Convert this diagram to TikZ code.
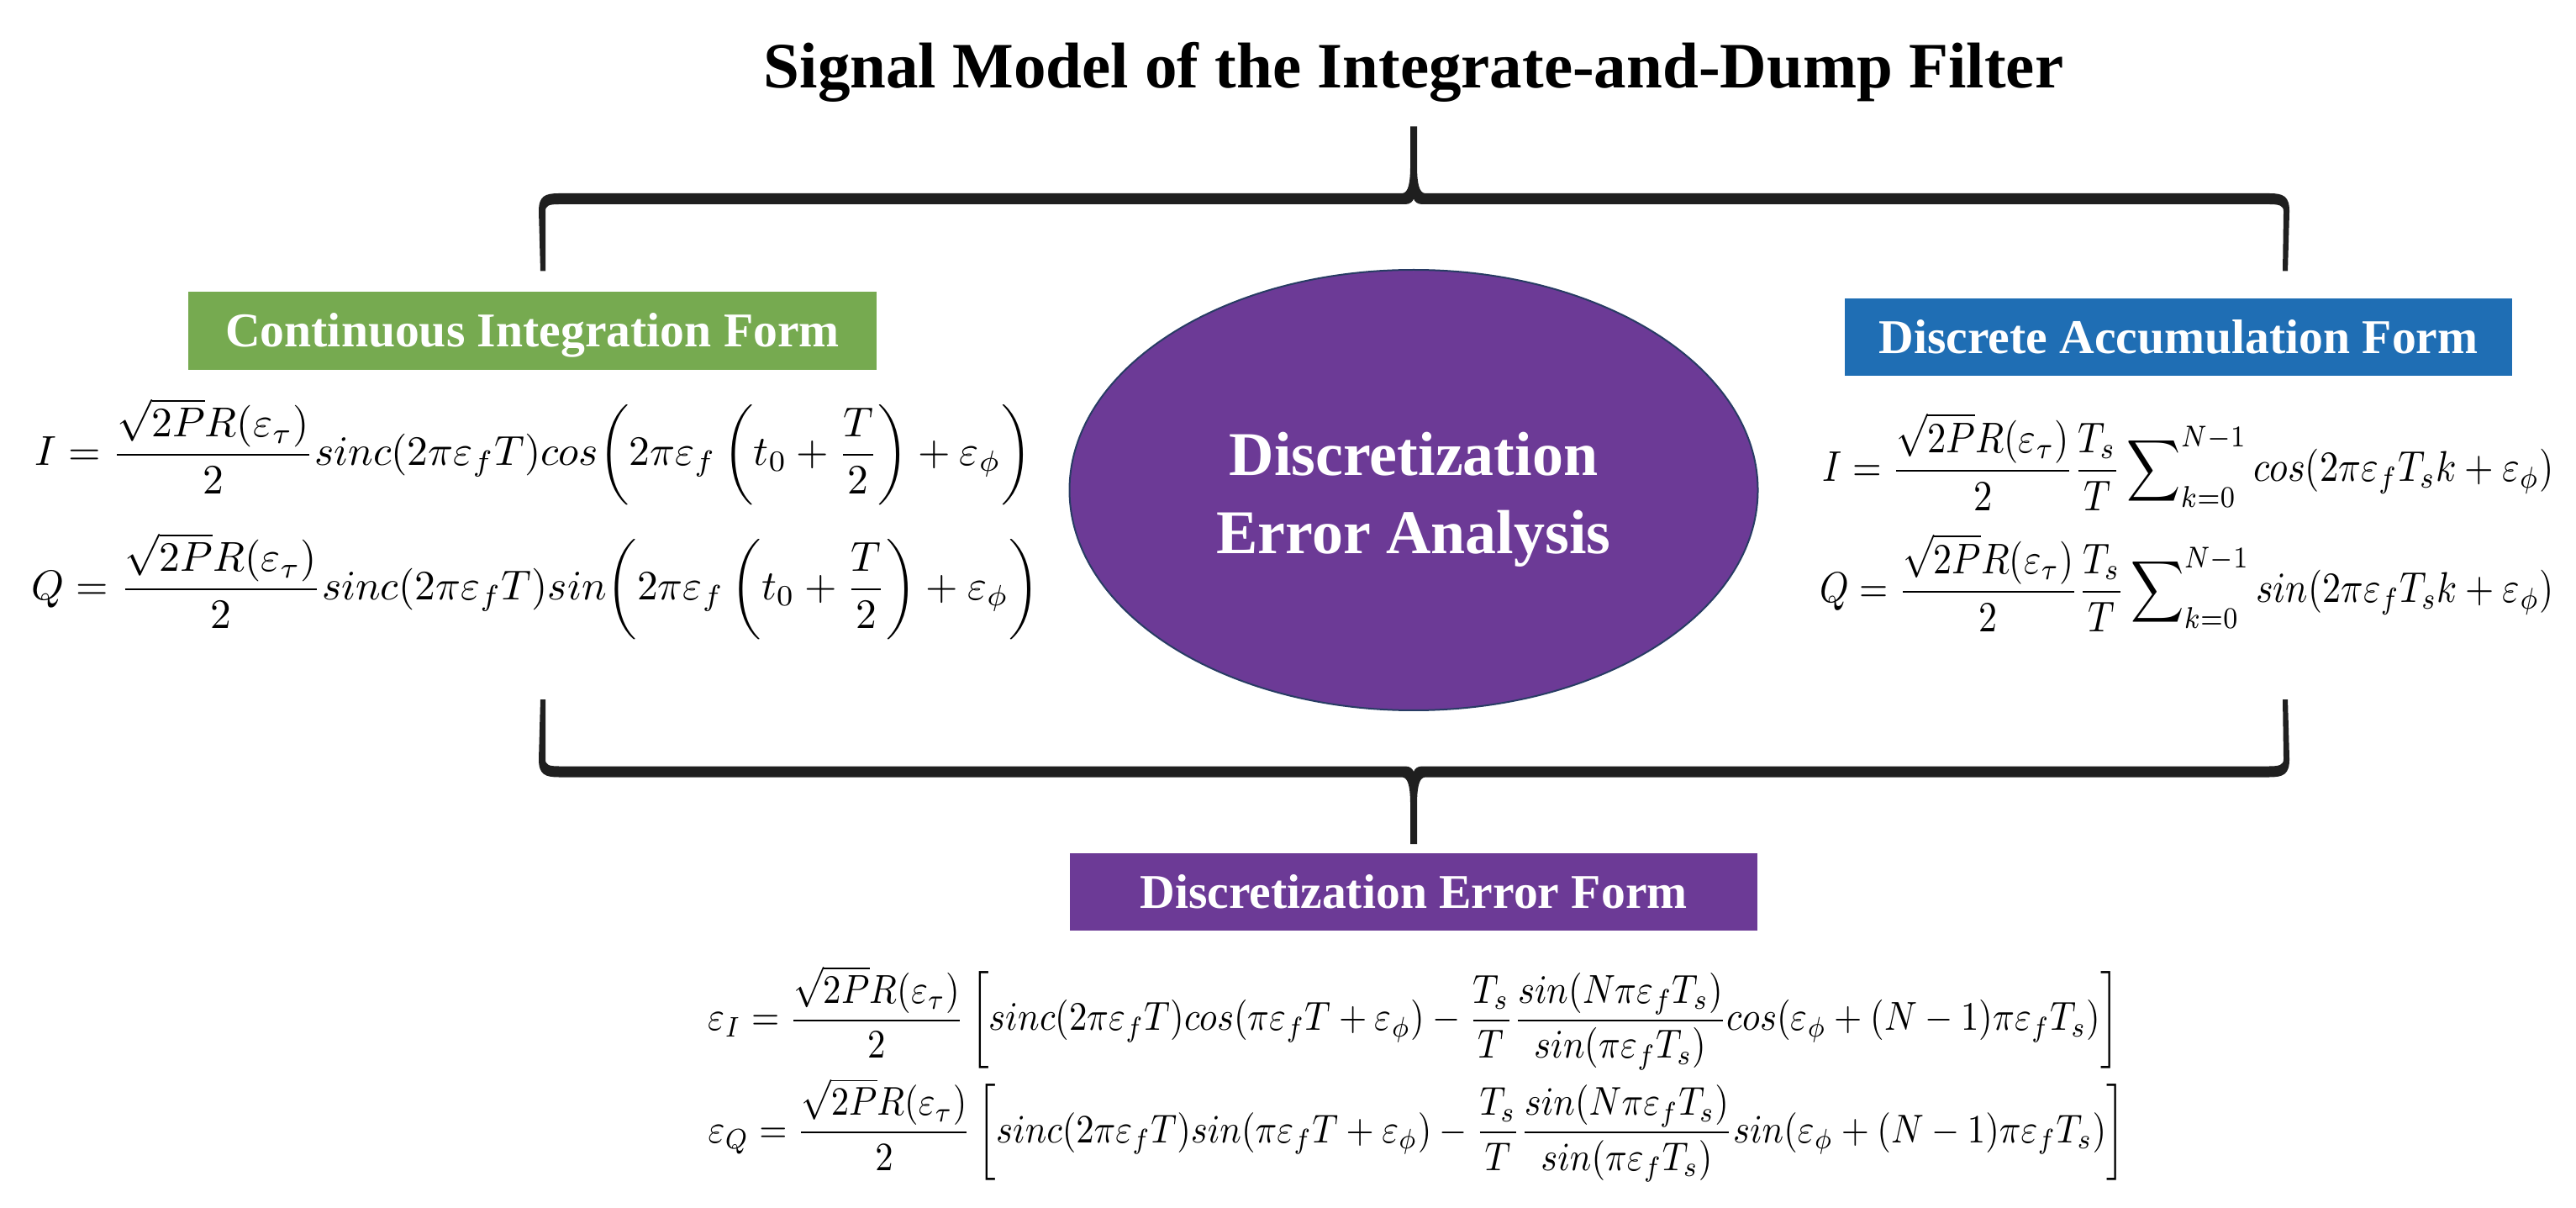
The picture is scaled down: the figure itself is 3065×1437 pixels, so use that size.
\documentclass[tikz,border=0pt]{standalone}
\usepackage{fontspec}
\setmainfont{Liberation Serif}
\usepackage{amsmath}
\usepackage{graphicx}
\usetikzlibrary{shapes.geometric}
\definecolor{cgreen}{RGB}{118,170,80}
\definecolor{cblue}{RGB}{31,110,180}
\definecolor{cpurple}{RGB}{108,58,150}
\definecolor{cnavy}{RGB}{40,60,100}
\newcommand\pa[1]{{\left(#1\right)}}
\tikzset{
  hdrbox/.style={rectangle, fill=#1, text=white, inner sep=0pt,
    font=\bfseries\fontsize{17.3}{20}\selectfont, text height=11.7pt, text depth=0pt},
  eqn/.style={anchor=north west, inner sep=0pt},
  elltext/.style={anchor=base, text=white, inner sep=0pt, font=\bfseries\fontsize{22.2}{26}\selectfont},
  pics/bigbrace/.style={code={
    \fill[black!88] (-1039,86) -- (-1041,15) .. controls (-1041,-3) and (-1034,-6.5) .. (-1017,-6.5)
      -- (-14,-6.5) .. controls (-6,-6.5) and (-4,-20) .. (-4,-40) -- (-4,-86) -- (4,-86) -- (4,-40)
      .. controls (4,-20) and (6,-6.5) .. (14,-6.5) -- (1018,-6.5)
      .. controls (1035,-6.5) and (1042,-3) .. (1042,15) -- (1040,86) -- (1034,86) -- (1035,15)
      .. controls (1035,8) and (1030,6.5) .. (1018,6.5) -- (10,6.5)
      .. controls (4,6.5) and (1,3) .. (0,0) .. controls (-1,3) and (-4,6.5) .. (-10,6.5)
      -- (-1017,6.5) .. controls (-1029,6.5) and (-1033,8) .. (-1033,15) -- (-1033,86) -- cycle;
  }}
}
\begin{document}
\begin{tikzpicture}[x=0.3pt,y=-0.3pt]
\useasboundingbox (0,0) rectangle (3065,1437);

\node[anchor=base, inner sep=0pt, font=\bfseries\fontsize{23.1}{27}\selectfont] (title) at (1682,105)
  {Signal Model of the Integrate-and-Dump Filter};

\pic (topbrace) at (1682,236.5) {bigbrace};
\pic[yscale=-1] (botbrace) at (1682,918) {bigbrace};

\node[hdrbox=cgreen, minimum width=245.7pt, minimum height=27.9pt] (cont) at (633.5,393.5)
  {Continuous Integration Form};
\node[hdrbox=cblue, minimum width=238.2pt, minimum height=27.6pt] (disc) at (2592,401)
  {Discrete Accumulation Form};
\node[hdrbox=cpurple, minimum width=245.4pt, minimum height=27.6pt] (errf) at (1682,1061)
  {Discretization Error Form};

\node[ellipse, fill=cpurple, draw=cnavy, line width=0.6pt, inner sep=0pt,
  minimum width=245.7pt, minimum height=157.2pt] (ana) at (1682,583) {};
\node[elltext] (anaA) at (1682,566) {Discretization};
\node[elltext] (anaB) at (1682,659) {Error Analysis};

% continuous form
\node[eqn] (cI) at (41,473) {\resizebox*{355.8pt}{38.1pt}{$\displaystyle
  I=\frac{\sqrt{2P}R(\varepsilon_\tau)}{2}sinc\pa{2\pi\varepsilon_f T}cos\pa{2\pi\varepsilon_f\left(t_0+\frac{T}{2}\right)+\varepsilon_\phi}$}};
\node[eqn] (cQ) at (37,633) {\resizebox*{359.7pt}{38.1pt}{$\displaystyle
  Q=\frac{\sqrt{2P}R(\varepsilon_\tau)}{2}sinc\pa{2\pi\varepsilon_f T}sin\pa{2\pi\varepsilon_f\left(t_0+\frac{T}{2}\right)+\varepsilon_\phi}$}};

% discrete form
\node[eqn] (dI) at (2168,490) {\resizebox*{261pt}{35.1pt}{$\displaystyle
  I=\frac{\sqrt{2P}R(\varepsilon_\tau)}{2}\frac{T_s}{T}\sum\nolimits_{k=0}^{N-1}cos\pa{2\pi\varepsilon_f T_s k+\varepsilon_\phi}$}};
\node[eqn] (dQ) at (2165,634) {\resizebox*{261.9pt}{35.1pt}{$\displaystyle
  Q=\frac{\sqrt{2P}R(\varepsilon_\tau)}{2}\frac{T_s}{T}\sum\nolimits_{k=0}^{N-1}sin\pa{2\pi\varepsilon_f T_s k+\varepsilon_\phi}$}};

% error form
\node[eqn] (eI) at (842,1148) {\resizebox*{503.7pt}{37.2pt}{$\displaystyle
  \varepsilon_I=\frac{\sqrt{2P}R(\varepsilon_\tau)}{2}\left[sinc\pa{2\pi\varepsilon_f T}cos\pa{\pi\varepsilon_f T+\varepsilon_\phi}-\frac{T_s}{T}\frac{sin\pa{N\pi\varepsilon_f T_s}}{sin\pa{\pi\varepsilon_f T_s}}cos\pa{\varepsilon_\phi+(N-1)\pi\varepsilon_f T_s}\right]$}};
\node[eqn] (eQ) at (842,1282) {\resizebox*{505.8pt}{36.9pt}{$\displaystyle
  \varepsilon_Q=\frac{\sqrt{2P}R(\varepsilon_\tau)}{2}\left[sinc\pa{2\pi\varepsilon_f T}sin\pa{\pi\varepsilon_f T+\varepsilon_\phi}-\frac{T_s}{T}\frac{sin\pa{N\pi\varepsilon_f T_s}}{sin\pa{\pi\varepsilon_f T_s}}sin\pa{\varepsilon_\phi+(N-1)\pi\varepsilon_f T_s}\right]$}};
\end{tikzpicture}
\end{document}
